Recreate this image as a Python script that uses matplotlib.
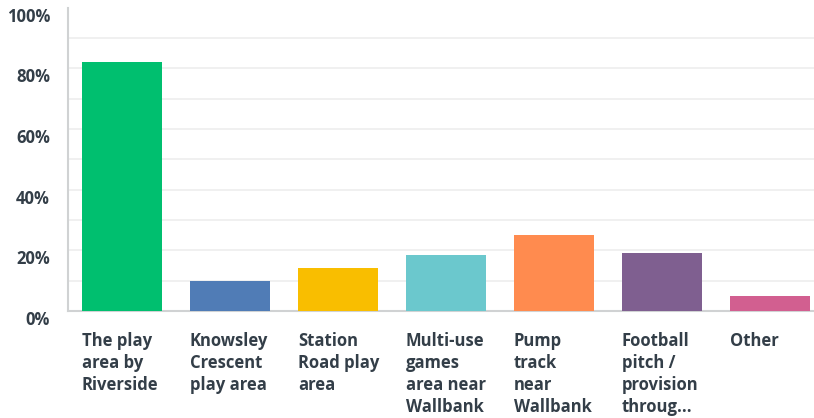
import numpy as np
import matplotlib.pyplot as plt

categories = ["The play\narea by\nRiverside",
              "Knowsley\nCrescent\nplay area",
              "Station\nRoad play\narea",
              "Multi-use\ngames\narea near\nWallbank",
              "Pump\ntrack\nnear\nWallbank",
              "Football\npitch /\nprovision\nthroug...",
              "Other"]
values = [82, 10, 14.3, 18.5, 25.1, 19.1, 5]
colors = ["#00bf6f", "#507cb6", "#f9be00", "#6bc8cd", "#ff8b4f", "#7f5f90", "#d25f90"]

text_color = "#333e48"
plt.rcParams['font.family'] = ['Open Sans', 'DejaVu Sans']

fig = plt.figure(figsize=(8.14, 4.18), dpi=100)
ax = fig.add_axes([68/814, 107/418, 746/814, 303.5/418])

x = np.arange(len(values))
width = 80/108
ax.bar(x, values, width=width, color=colors, zorder=3)

ax.set_ylim(0, 100)
ax.set_xlim(-0.5, 6.41)
ax.set_yticks(np.arange(0, 101, 20))
# labels hang just below their gridlines, as in the original
ax.set_yticklabels([f"{v}%" for v in range(0, 101, 20)], va='top',
                   fontsize=12, fontweight='bold', color=text_color)
for v in range(10, 100, 10):
    ax.axhline(v, color="#edeeee", linewidth=1.2, zorder=1)

ax.set_xticks(x - width/2)
ax.set_xticklabels(categories, ha='left', va='top', fontsize=12,
                   fontweight='bold', color=text_color, linespacing=1.3)
ax.tick_params(axis='both', length=0)
ax.tick_params(axis='x', pad=15)
ax.tick_params(axis='y', pad=13)

for s in ['top', 'right']:
    ax.spines[s].set_visible(False)
ax.spines['left'].set_color("#d0d2d3")
ax.spines['bottom'].set_color("#d0d2d3")
ax.spines['left'].set_linewidth(1.5)
ax.spines['bottom'].set_linewidth(1.5)

fig.savefig("out.png", dpi=100)
